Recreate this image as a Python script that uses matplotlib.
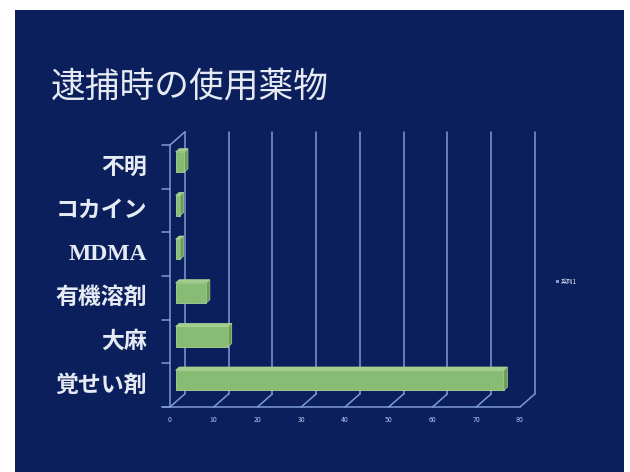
import numpy as np
import matplotlib.pyplot as plt
from matplotlib.patches import Rectangle, Polygon

plt.rcParams['font.family'] = ['Noto Sans CJK JP', 'DejaVu Sans']

# drugs in use at the time of arrest (bottom to top)
drugs = ['覚せい剤', '大麻', '有機溶剤', 'MDMA', 'コカイン', '不明']
counts = [75, 12, 7, 1, 1, 2]
xticks = [0, 10, 20, 30, 40, 50, 60, 70, 80]
series_name = '系列1'

bg = '#0a1f5c'
grid_c = '#7f9ad6'
text_c = '#e6eaf3'

fig = plt.figure(figsize=(6.3, 4.72), dpi=100)
fig.patch.set_facecolor('white')
fig.patches.append(Rectangle((15 / 630, 0), 609 / 630, 462 / 472,
                             transform=fig.transFigure, facecolor=bg,
                             edgecolor='none', zorder=-5))

fig.text(51 / 630, 1 - 87 / 472, '逮捕時の使用薬物', color=text_c,
         fontsize=25, va='center', ha='left')

ax = fig.add_axes([170 / 630, 65 / 472, 350 / 630, 262 / 472])
ax.set_xlim(0, 80)
ax.set_ylim(-0.5, len(drugs) - 0.5)
ax.axis('off')
ax.patch.set_alpha(0)

# depth of the pseudo 3-D box, in data units
dx, dy = 3.4, 0.3
y0, y1 = -0.5, len(drugs) - 0.5
lk = dict(color=grid_c, lw=1.1, clip_on=False, solid_capstyle='round')

# back wall gridlines
for t in xticks:
    ax.plot([t + dx, t + dx], [y0 + dy, y1 + dy], **lk)
# left wall
ax.plot([0, 0], [y0, y1], **lk)
ax.plot([0, dx], [y1, y1 + dy], **lk)
for k in range(len(drugs) + 1):
    ax.plot([-1.8, 0], [y0 + k, y0 + k], **lk)
# floor
ax.plot([-1.8, 80], [y0, y0], **lk)
for t in xticks:
    ax.plot([t, t + dx], [y0, y0 + dy], **lk)
    ax.text(t, y0 - 0.3, str(t), color='#b4c4ee', fontsize=5,
            ha='center', va='center')

# bars with front, top and side faces (shallow depth)
h = 0.46
f0, f1 = 0.38, 0.62
for i, v in enumerate(counts):
    ax0, ay0 = f0 * dx, i - h / 2 + f0 * dy
    bx, by = f1 * dx, f1 * dy
    front = Rectangle((ax0, ay0), v, h, facecolor='#88bb74',
                      edgecolor='#a9d494', lw=0.6, clip_on=False, zorder=3)
    top = Polygon([(ax0, ay0 + h), (ax0 + v, ay0 + h),
                   (v + bx, i + h / 2 + by), (bx, i + h / 2 + by)],
                  facecolor='#a3cf8c', edgecolor='#a9d494', lw=0.5,
                  clip_on=False, zorder=3)
    side = Polygon([(ax0 + v, ay0), (ax0 + v, ay0 + h),
                    (v + bx, i + h / 2 + by), (v + bx, i - h / 2 + by)],
                   facecolor='#6a9c57', edgecolor='#a9d494', lw=0.5,
                   clip_on=False, zorder=3)
    for p in (front, top, side):
        ax.add_patch(p)

# category labels
for i, name in enumerate(drugs):
    if name == 'MDMA':
        ax.text(-5.3, i, name, color=text_c, fontsize=17, fontweight='bold',
                ha='right', va='center',
                family=['Liberation Serif', 'Noto Sans CJK JP'])
    else:
        ax.text(-5.3, i, name, color=text_c, fontsize=16.5, fontweight='bold',
                ha='right', va='center')

# legend
fig.patches.append(Rectangle((556 / 630, 1 - 283 / 472), 3 / 630, 3 / 472,
                             transform=fig.transFigure, facecolor=grid_c,
                             edgecolor='none'))
fig.text(561 / 630, 1 - 281.5 / 472, series_name, color=text_c,
         fontsize=4.5, va='center', ha='left')

fig.savefig('out.png', dpi=100, facecolor=fig.get_facecolor())
